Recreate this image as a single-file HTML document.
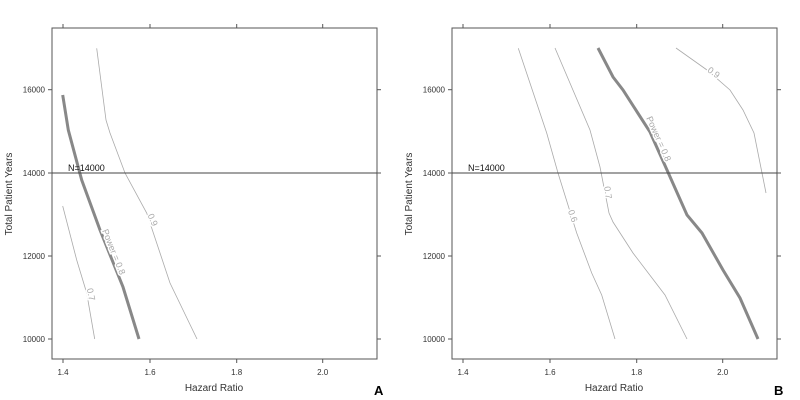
<!DOCTYPE html>
<html><head><style>body{margin:0;background:#fff}svg{display:block}</style></head><body>
<svg width="800" height="400" xmlns="http://www.w3.org/2000/svg" font-family="Liberation Sans, sans-serif">
<rect width="800" height="400" fill="#fff"/>
<g id="A">
<rect x="52" y="28" width="325" height="331" fill="none" stroke="#555" stroke-width="1"/>
<g stroke="#555"><line x1="63" y1="359" x2="63" y2="363"/><line x1="150" y1="359" x2="150" y2="363"/><line x1="236.7" y1="359" x2="236.7" y2="363"/><line x1="322.7" y1="359" x2="322.7" y2="363"/>
<line x1="63" y1="28" x2="63" y2="24"/><line x1="150" y1="28" x2="150" y2="24"/><line x1="236.7" y1="28" x2="236.7" y2="24"/><line x1="322.7" y1="28" x2="322.7" y2="24"/>
<line x1="48" y1="89.7" x2="52" y2="89.7"/><line x1="48" y1="173" x2="52" y2="173"/><line x1="48" y1="256" x2="52" y2="256"/><line x1="48" y1="339" x2="52" y2="339"/>
<line x1="377" y1="89.7" x2="381" y2="89.7"/><line x1="377" y1="173" x2="381" y2="173"/><line x1="377" y1="256" x2="381" y2="256"/><line x1="377" y1="339" x2="381" y2="339"/></g>
<g font-size="8" fill="#333" text-anchor="middle"><text x="63" y="375">1.4</text><text x="150" y="375">1.6</text><text x="236.7" y="375">1.8</text><text x="322.7" y="375">2.0</text></g>
<g font-size="8" fill="#333" text-anchor="end"><text x="45" y="92.5">16000</text><text x="45" y="176">14000</text><text x="45" y="259">12000</text><text x="45" y="342">10000</text></g>
<text x="214" y="391" font-size="10" fill="#333" text-anchor="middle">Hazard Ratio</text>
<text transform="translate(12,194) rotate(-90)" font-size="10" fill="#333" text-anchor="middle">Total Patient Years</text>
<text x="374" y="395" font-size="13" font-weight="bold" fill="#000">A</text>
<polyline fill="none" stroke="#aaa" stroke-width="0.8" points="96.7,48.3 106,120 110,133 125,173 146.7,213 170,283 197,339"/>
<polyline fill="none" stroke="#888" stroke-width="3" points="62.7,95 68.3,130 81.7,180 100,230 123,287 139,339"/>
<polyline fill="none" stroke="#aaa" stroke-width="0.8" points="62.7,206 76.7,260 86.7,293 94.7,339"/>
<line x1="52" y1="173" x2="377" y2="173" stroke="#444" stroke-width="1"/>
<text x="68" y="171" font-size="9" fill="#111">N=14000</text>
<g font-size="9" fill="#aaa" stroke="#fff" stroke-width="3" paint-order="stroke" text-anchor="middle">
<text transform="translate(150,221) rotate(67)">0.9</text>
<text transform="translate(111,253) rotate(68)">Power = 0.8</text>
<text transform="translate(88,295) rotate(78)">0.7</text></g>
</g>
<g transform="translate(400,0)">
<rect x="52" y="28" width="325" height="331" fill="none" stroke="#555" stroke-width="1"/>
<g stroke="#555"><line x1="63" y1="359" x2="63" y2="363"/><line x1="150" y1="359" x2="150" y2="363"/><line x1="236.7" y1="359" x2="236.7" y2="363"/><line x1="322.7" y1="359" x2="322.7" y2="363"/>
<line x1="63" y1="28" x2="63" y2="24"/><line x1="150" y1="28" x2="150" y2="24"/><line x1="236.7" y1="28" x2="236.7" y2="24"/><line x1="322.7" y1="28" x2="322.7" y2="24"/>
<line x1="48" y1="89.7" x2="52" y2="89.7"/><line x1="48" y1="173" x2="52" y2="173"/><line x1="48" y1="256" x2="52" y2="256"/><line x1="48" y1="339" x2="52" y2="339"/>
<line x1="377" y1="89.7" x2="381" y2="89.7"/><line x1="377" y1="173" x2="381" y2="173"/><line x1="377" y1="256" x2="381" y2="256"/><line x1="377" y1="339" x2="381" y2="339"/></g>
<g font-size="8" fill="#333" text-anchor="middle"><text x="63" y="375">1.4</text><text x="150" y="375">1.6</text><text x="236.7" y="375">1.8</text><text x="322.7" y="375">2.0</text></g>
<g font-size="8" fill="#333" text-anchor="end"><text x="45" y="92.5">16000</text><text x="45" y="176">14000</text><text x="45" y="259">12000</text><text x="45" y="342">10000</text></g>
<text x="214" y="391" font-size="10" fill="#333" text-anchor="middle">Hazard Ratio</text>
<text transform="translate(12,194) rotate(-90)" font-size="10" fill="#333" text-anchor="middle">Total Patient Years</text>
<text x="374" y="395" font-size="13" font-weight="bold" fill="#000">B</text>
<polyline fill="none" stroke="#aaa" stroke-width="0.8" points="118.3,48.3 146.7,133 158,173 176.7,233 191.7,273 201.7,295 215,339"/>
<polyline fill="none" stroke="#aaa" stroke-width="0.8" points="155,48 190,130 200,167 209,213 213,222 233,253 265,295 287,339"/>
<polyline fill="none" stroke="#888" stroke-width="3" points="198,48 213,77 223,90 250,132 267,170 287,215 302,233 323,270 340,298 358,339"/>
<polyline fill="none" stroke="#aaa" stroke-width="0.8" points="276,48 307,70 330,90 343,110 354,133 362,173 366,193"/>
<line x1="52" y1="173" x2="377" y2="173" stroke="#444" stroke-width="1"/>
<text x="68" y="171" font-size="9" fill="#111">N=14000</text>
<g font-size="9" fill="#aaa" stroke="#fff" stroke-width="3" paint-order="stroke" text-anchor="middle">
<text transform="translate(170,217) rotate(70)">0.6</text>
<text transform="translate(205,193) rotate(82)">0.7</text>
<text transform="translate(256,140) rotate(66)">Power = 0.8</text>
<text transform="translate(312,75) rotate(35)">0.9</text></g>
</g>
</svg>
</body></html>
